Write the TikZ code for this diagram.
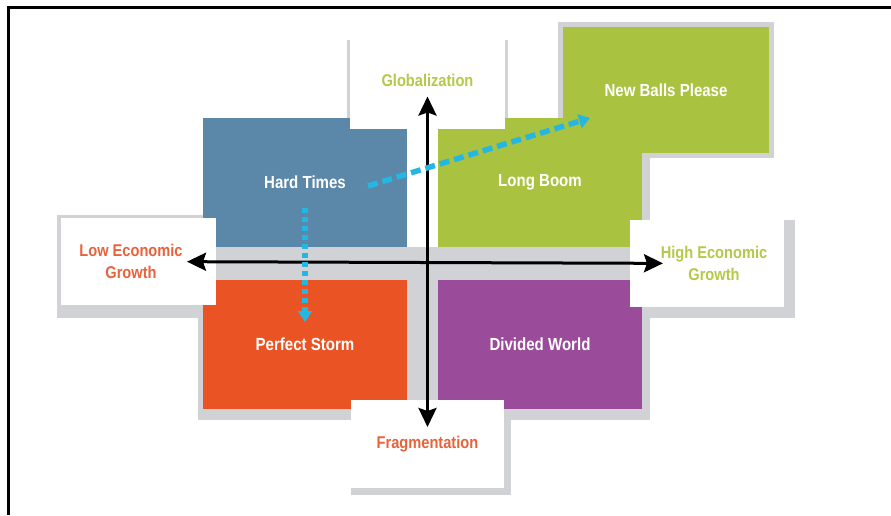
\documentclass[tikz,border=0pt]{standalone}
\usepackage{fontspec}
\setmainfont{Liberation Sans}[FakeStretch=0.86]
\usetikzlibrary{arrows.meta,positioning,shapes}

\definecolor{htblue}{RGB}{91,135,168}
\definecolor{lbgreen}{RGB}{169,194,63}
\definecolor{psorange}{RGB}{234,84,36}
\definecolor{dwpurple}{RGB}{154,76,154}
\definecolor{shadegray}{RGB}{208,210,213}
\definecolor{trendcyan}{RGB}{38,182,226}
\definecolor{lowred}{RGB}{232,98,58}
\definecolor{highgreen}{RGB}{181,201,72}

\begin{document}
\begin{tikzpicture}[x=1pt,y=-1pt,
  quad/.style={minimum width=204pt,minimum height=129pt,inner sep=0pt,
    text=white,font=\fontsize{17.5}{20}\selectfont\bfseries},
  axislabel/.style={fill=white,minimum width=155pt,minimum height=88pt,inner sep=0pt,
    align=center,font=\fontsize{17}{22}\selectfont\bfseries},
  axis/.style={line width=3pt,{Stealth[length=19pt,width=18pt,inset=3pt]}-{Stealth[length=19pt,width=18pt,inset=3pt]}},
  trend/.style={line width=5.5pt,trendcyan,-{Triangle[length=11pt,width=14pt]}}]
\useasboundingbox (0,0) rectangle (891,515);
\draw[line width=3pt] (8,515) -- (8,7) -- (891,7);

% grey backing
\fill[shadegray] (198,247) rectangle (650,420);
\fill[shadegray] (642,150) rectangle (650,247);
\fill[shadegray] (57,215) rectangle (216,318);
\fill[shadegray] (630,220) rectangle (795,318);
\fill[shadegray] (347,40) rectangle (508,129);
\fill[shadegray] (351,400) rectangle (511,495);
\fill[shadegray] (558,22) rectangle (774,158);

% scenarios
\node[quad,fill=htblue] (hard) at (305,182.5) {Hard Times};
\node[quad,fill=lbgreen] (long) at (540,182.5) {Long Boom};
\node[quad,fill=psorange] (perfect) at (305,344) {Perfect Storm};
\node[quad,fill=dwpurple] (divided) at (540,344) {Divided World};
\node[quad,fill=lbgreen,minimum width=206pt,minimum height=126pt] (balls) at (666,90) {New Balls Please};

% axis ends
\node[axislabel,text=lowred,minimum height=87pt] (low) at (138,261.5) {\hspace*{-14pt}Low Economic\\\hspace*{-14pt}Growth};
\node[axislabel,text=highgreen,minimum width=154pt,minimum height=87pt] (high) at (707,263.5) {\hspace*{14pt}High Economic\\\hspace*{14pt}Growth};
\node[axislabel,text=highgreen,minimum height=89pt] (glob) at (427.5,84.5) {\raisebox{9pt}{Globalization}};
\node[axislabel,text=lowred,minimum width=153pt] (frag) at (427.5,444) {Fragmentation};

\draw[axis,shorten <=49pt,shorten >=44pt] (low.center) -- (high.center);
\draw[axis,shorten <=12pt,shorten >=17pt] (glob.center) -- (frag.center);

% moves between scenarios
\coordinate (htout) at ([xshift=63pt,yshift=-3.5pt]hard.center);
\coordinate (ballsin) at ([xshift=-76pt,yshift=-28pt]balls.center);
\draw[trend,dash pattern=on 10pt off 5pt] (htout) -- (ballsin);
\draw[trend,dash pattern=on 5pt off 4pt,shorten <=25pt,shorten >=22pt] (hard.center) -- (perfect.center);
\end{tikzpicture}
\end{document}
